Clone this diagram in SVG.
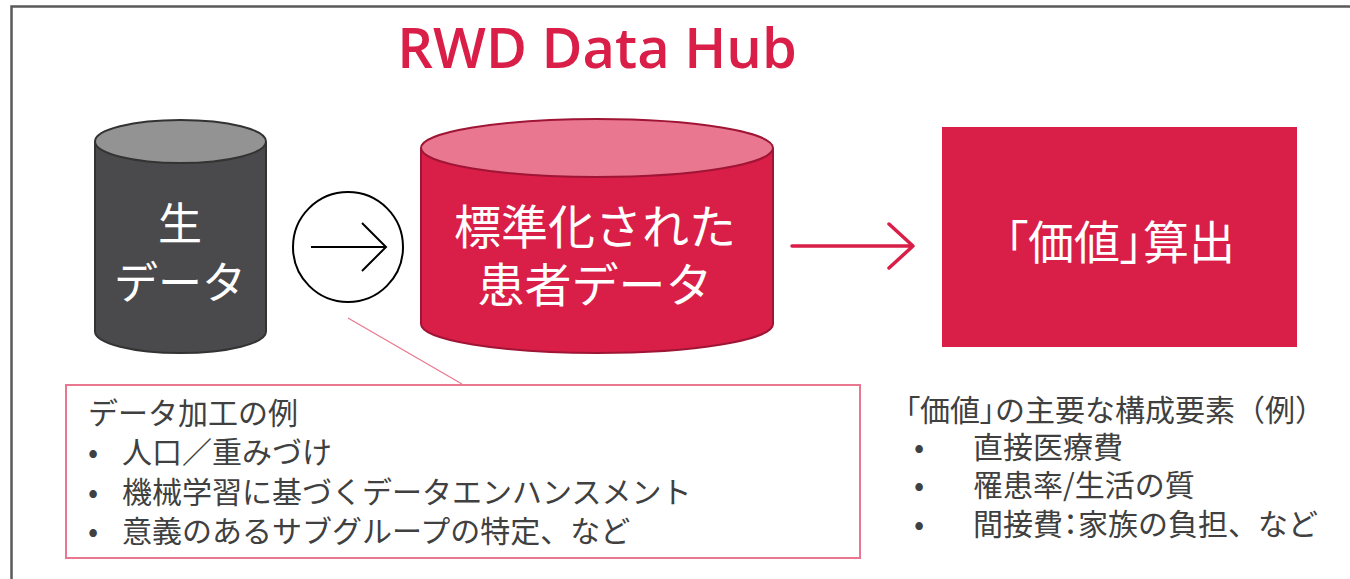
<svg xmlns="http://www.w3.org/2000/svg" width="1350" height="579" viewBox="0 0 1350 579">
<defs>
<style>
.jp{font-family:"Noto Sans CJK JP","Noto Sans",sans-serif;}
.wt{fill:#ffffff;}
.gt{fill:#404040;font-size:30px;}
.lt{fill:#404040;font-size:30px;}
.red{fill:#d91e48;}
.palt{font-feature-settings:"palt";}
</style>
</defs>
<rect width="1350" height="579" fill="#ffffff"/>
<g id="frame">
<path d="M11.5,579 V6.5 H1350" fill="none" stroke="#5a5a5a" stroke-width="2.5"/>
</g>
<g id="title">
<text x="597" y="68" text-anchor="middle" font-family="Open Sans, Liberation Sans, sans-serif" font-weight="600" font-size="56" class="red">RWD Data Hub</text>
</g>
<g id="connectors">
<line x1="348" y1="318" x2="462" y2="384" stroke="#e8778f" stroke-width="1.2"/>
<path d="M792,246 H913 M889,224 L913,246 L889,268" fill="none" stroke="#d91e48" stroke-width="3.5" stroke-linecap="round" stroke-linejoin="round"/>
</g>
<g id="raw-data">
<path d="M95,141.5 V331.5 A85.5,21.5 0 0 0 266,331.5 V141.5" fill="#4a4a4c" stroke="#333333" stroke-width="2"/>
<ellipse cx="180.5" cy="141.5" rx="85.5" ry="21.5" fill="#939393" stroke="#333333" stroke-width="2"/>
<text x="180" y="240" text-anchor="middle" class="jp wt" font-size="44">生</text>
<text x="180" y="299" text-anchor="middle" class="jp wt" font-size="44">データ</text>
</g>
<g id="process">
<circle cx="348" cy="247" r="55" fill="#ffffff" stroke="#000000" stroke-width="2"/>
<path d="M311,247 H386 M362,223 L386,247 L362,271" fill="none" stroke="#000000" stroke-width="2"/>
</g>
<g id="standardized">
<path d="M421,148 V324 A176,29 0 0 0 773,324 V148" fill="#d91e48" stroke="#a01535" stroke-width="2"/>
<ellipse cx="597" cy="148" rx="176" ry="29" fill="#e8778f" stroke="#a01535" stroke-width="2"/>
<text x="595" y="244" text-anchor="middle" class="jp wt" font-size="47">標準化された</text>
<text x="595" y="302" text-anchor="middle" class="jp wt" font-size="47">患者データ</text>
</g>
<g id="value">
<rect x="942" y="127" width="355" height="220" fill="#d91e48"/>
<text x="1120" y="259" text-anchor="middle" class="jp wt palt" font-size="46">「価値」算出</text>
</g>
<g id="processing-examples">
<rect x="66" y="385" width="794" height="173" fill="#ffffff" stroke="#e8778f" stroke-width="2"/>
<text x="88" y="424" class="jp lt">データ加工の例</text>
<text x="88" y="463" class="jp lt">•</text>
<text x="122" y="463" class="jp lt">人口／重みづけ</text>
<text x="88" y="503" class="jp lt">•</text>
<text x="122" y="503" class="jp lt">機械学習に基づくデータエンハンスメント</text>
<text x="88" y="542" class="jp lt">•</text>
<text x="122" y="542" class="jp lt">意義のあるサブグループの特定、など</text>
</g>
<g id="value-components">
<text x="905" y="421" class="jp gt"><tspan class="palt">「価値」</tspan>の主要な構成要素（例）</text>
<text x="914" y="458" class="jp gt">•</text>
<text x="973" y="458" class="jp gt">直接医療費</text>
<text x="914" y="496" class="jp gt">•</text>
<text x="973" y="496" class="jp gt">罹患率/生活の質</text>
<text x="914" y="535" class="jp gt">•</text>
<text x="973" y="535" class="jp gt">間接費<tspan class="palt">：</tspan>家族の負担、など</text>
</g>
</svg>
